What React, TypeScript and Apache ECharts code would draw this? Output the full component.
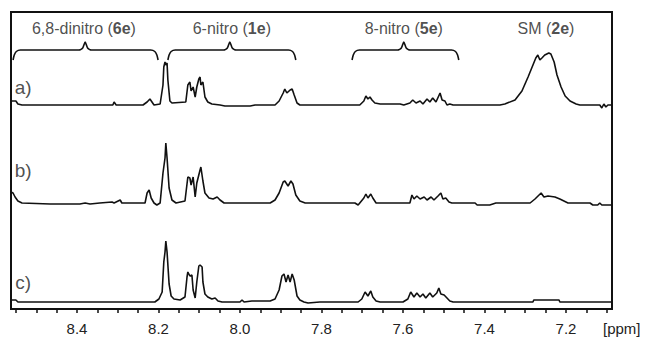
import React, { useEffect, useRef } from "react";
import * as echarts from "echarts";

// ppm, intensity (arbitrary units above each trace's baseline)
const spectrumA: [number, number][] = [
  [8.562, 4], [8.55, 4], [8.545, 1], [8.535, 0], [8.491, 0], [8.393, 0], [8.312, 0], [8.309, 3], [8.304, 0],
  [8.238, 0], [8.228, 3], [8.221, 6], [8.216, 3], [8.211, 0], [8.196, 1],
  [8.189, 20], [8.187, 38], [8.184, 43], [8.182, 40], [8.179, 42], [8.177, 25], [8.172, 4], [8.167, 2],
  [8.133, 3], [8.128, 20], [8.123, 23], [8.12, 14], [8.115, 18], [8.11, 8], [8.106, 18], [8.101, 26],
  [8.098, 28], [8.096, 20], [8.091, 23], [8.086, 8], [8.079, 3], [8.069, 1], [8.049, 0], [8.037, -1],
  [7.975, -1], [7.963, 0], [7.914, 0], [7.904, 4], [7.894, 12], [7.89, 16], [7.885, 12], [7.877, 15],
  [7.872, 16], [7.867, 10], [7.86, 2], [7.853, 0], [7.706, 0], [7.696, 4], [7.691, 9], [7.686, 6],
  [7.681, 8], [7.676, 5], [7.669, 2], [7.656, 1], [7.607, 1], [7.598, 0], [7.583, 2], [7.576, 5],
  [7.568, 2], [7.558, 4], [7.551, 1], [7.541, 6], [7.534, 3], [7.527, 7], [7.519, 3], [7.509, 12],
  [7.504, 5], [7.497, 4], [7.492, 0], [7.485, 1], [7.477, 0], [7.362, 0], [7.35, 1], [7.325, 5],
  [7.308, 14], [7.293, 28], [7.281, 40], [7.274, 47], [7.269, 50], [7.264, 45], [7.259, 47], [7.252, 50],
  [7.242, 52], [7.237, 51], [7.229, 43], [7.222, 30], [7.212, 18], [7.202, 9], [7.19, 4], [7.175, 1],
  [7.166, 0], [7.117, 0], [7.112, -3], [7.107, 1], [7.102, -2], [7.097, 0], [7.087, 0],
];

const spectrumB: [number, number][] = [
  [8.562, 11], [8.557, 10], [8.552, 6], [8.545, 2], [8.535, 0], [8.466, -1], [8.393, -1], [8.38, 0],
  [8.368, -1], [8.344, 0], [8.314, 1], [8.309, 0], [8.294, 3], [8.29, 0], [8.233, 0], [8.228, 10],
  [8.223, 13], [8.218, 5], [8.211, 0], [8.204, -2], [8.196, 0], [8.189, 30], [8.184, 45], [8.182, 60],
  [8.179, 45], [8.174, 15], [8.167, 3], [8.157, 0], [8.135, 2], [8.128, 26], [8.123, 25], [8.12, 18],
  [8.115, 26], [8.11, 6], [8.106, 20], [8.098, 33], [8.096, 36], [8.091, 22], [8.086, 10], [8.076, 5],
  [8.066, 4], [8.056, 6], [8.049, 3], [8.039, 0], [7.926, 0], [7.914, 3], [7.904, 10], [7.894, 21],
  [7.89, 22], [7.882, 17], [7.875, 22], [7.87, 19], [7.863, 8], [7.853, 2], [7.84, 0], [7.718, 0],
  [7.71, -2], [7.706, 0], [7.696, 5], [7.691, 9], [7.686, 5], [7.679, 9], [7.674, 5], [7.666, 0],
  [7.583, 0], [7.578, 8], [7.573, 4], [7.566, 7], [7.558, 4], [7.548, 6], [7.541, 3], [7.531, 6],
  [7.524, 3], [7.514, 7], [7.507, 10], [7.502, 4], [7.495, 5], [7.487, 1], [7.48, 0], [7.423, 0],
  [7.418, -2], [7.387, -2], [7.372, 0], [7.288, 0], [7.276, 4], [7.261, 10], [7.254, 6], [7.244, 7],
  [7.227, 6], [7.215, 4], [7.2, 1], [7.195, 0], [7.141, 0], [7.134, -2], [7.122, -2], [7.117, 0],
  [7.112, -2], [7.102, -2], [7.087, -2],
];

const spectrumC: [number, number][] = [
  [8.562, 2], [8.55, 2], [8.545, 0], [8.209, 0], [8.199, 3], [8.191, 10], [8.187, 40], [8.184, 50],
  [8.182, 61], [8.179, 50], [8.174, 18], [8.169, 6], [8.162, 3], [8.147, 2], [8.135, 5], [8.13, 25],
  [8.128, 30], [8.123, 26], [8.118, 27], [8.115, 12], [8.11, 4], [8.106, 20], [8.101, 36], [8.098, 37],
  [8.093, 35], [8.091, 20], [8.086, 8], [8.079, 5], [8.069, 3], [8.061, 4], [8.054, 1], [8.044, 0],
  [8.0, 0], [7.995, 2], [7.99, 0], [7.971, 1], [7.926, 1], [7.914, 3], [7.904, 12], [7.897, 26],
  [7.892, 28], [7.887, 20], [7.882, 27], [7.877, 20], [7.872, 28], [7.867, 22], [7.86, 6], [7.853, 2],
  [7.843, 0], [7.833, -1], [7.804, 0], [7.71, 0], [7.701, 3], [7.693, 10], [7.686, 6], [7.679, 11],
  [7.674, 5], [7.666, 1], [7.656, 0], [7.6, 0], [7.588, 3], [7.581, 10], [7.573, 5], [7.566, 9],
  [7.558, 5], [7.551, 8], [7.544, 4], [7.534, 9], [7.527, 5], [7.517, 9], [7.512, 14], [7.507, 8],
  [7.499, 7], [7.492, 4], [7.485, 1], [7.477, 0], [7.281, 0], [7.279, 2], [7.217, 2], [7.215, 0],
  [7.087, 0],
];

const traceNames = ["a)", "b)", "c)"];
const traceOffsets = [204, 106, 7];
const traceLabelPos: [number, number][] = [[8.532, 222], [8.532, 139], [8.532, 27]];

const groupNames = ["6,8-dinitro", "6-nitro", "8-nitro", "SM"];
const groupCodes = ["6e", "1e", "5e", "2e"];
const groupCenters = [8.383, 8.02, 7.598, 7.249];
const groupLabelY = 281;
// bracket start / centre / end (ppm)
const bracketRanges: [number, number, number][] = [
  [8.557, 8.38, 8.201],
  [8.177, 8.025, 7.863],
  [7.725, 7.598, 7.463],
];
const bracketLevel = 259;

const tickLabels = [8.4, 8.2, 8.0, 7.8, 7.6, 7.4, 7.2];
const minorTicks = [
  8.55, 8.5, 8.45, 8.4, 8.35, 8.3, 8.25, 8.2, 8.15, 8.1, 8.05, 8.0, 7.95, 7.9, 7.85, 7.8, 7.75, 7.7,
  7.65, 7.6, 7.55, 7.5, 7.45, 7.4, 7.35, 7.3, 7.25, 7.2, 7.15, 7.1,
];

const FONT = "Liberation Sans";

function bracketPoints(s: number, c: number, e: number, L: number): [number, number][] {
  return [
    [s, L - 10], [s - 0.003, L - 5], [s - 0.008, L - 1.5], [s - 0.018, L],
    [c + 0.015, L], [c + 0.006, L + 2], [c, L + 8], [c - 0.006, L + 2], [c - 0.015, L],
    [e + 0.018, L], [e + 0.008, L - 1.5], [e + 0.003, L - 5], [e, L - 10],
  ];
}

export default function App() {
  const ref = useRef<HTMLDivElement>(null);
  useEffect(() => {
    if (!ref.current) return;
    const chart = echarts.init(ref.current, null, { renderer: "svg" });
    const spectra = [spectrumA, spectrumB, spectrumC];
    const series: any[] = [];
    spectra.forEach((sp, i) => {
      series.push({
        type: "line",
        name: traceNames[i],
        data: sp.map(([x, y]) => [x, y + traceOffsets[i]]),
        showSymbol: false,
        symbol: "none",
        lineStyle: { color: "#111", width: 1.6 },
        silent: true,
      });
    });
    bracketRanges.forEach(([s, c, e], i) => {
      series.push({
        type: "line",
        name: "bracket" + i,
        data: bracketPoints(s, c, e, bracketLevel),
        showSymbol: false,
        symbol: "none",
        smooth: 0.2,
        lineStyle: { color: "#111", width: 1.6 },
        silent: true,
      });
    });
    series.push({
      type: "scatter",
      name: "groups",
      symbolSize: 0,
      silent: true,
      data: groupCenters.map((c, i) => ({
        value: [c, groupLabelY],
        label: {
          show: true,
          position: "inside",
          formatter: `{n|${groupNames[i]} (}{b|${groupCodes[i]}}{n|)}`,
          rich: {
            n: { fontSize: 16, fontFamily: FONT, color: "#222" },
            b: { fontSize: 16, fontFamily: FONT, color: "#222", fontWeight: "bold" },
          },
        },
      })),
    });
    series.push({
      type: "scatter",
      name: "traces",
      symbolSize: 0,
      silent: true,
      data: traceLabelPos.map((p, i) => ({
        value: p,
        label: {
          show: true,
          position: "inside",
          formatter: traceNames[i],
          fontSize: 19,
          fontFamily: FONT,
          color: "#222",
        },
      })),
    });

    chart.setOption({
      animation: false,
      textStyle: { fontFamily: FONT },
      grid: {
        left: 11,
        top: 12,
        width: 601,
        height: 297,
        show: true,
        borderColor: "#111",
        borderWidth: 2,
        backgroundColor: "transparent",
      },
      xAxis: {
        type: "value",
        inverse: true,
        min: 7.087,
        max: 8.562,
        axisLine: { show: false },
        splitLine: { show: false },
        axisTick: {
          show: true,
          inside: false,
          length: 4,
          customValues: minorTicks,
          lineStyle: { color: "#111", width: 1.5 },
        },
        axisLabel: {
          customValues: tickLabels,
          formatter: (v: number) => v.toFixed(1),
          fontSize: 15,
          fontFamily: FONT,
          color: "#222",
          margin: 12,
        },
      },
      yAxis: {
        type: "value",
        min: 0,
        max: 297,
        show: false,
      },
      graphic: [
        {
          type: "text",
          left: 603,
          top: 321,
          style: { text: "[ppm]", fontSize: 15, fontFamily: FONT, fill: "#222" },
        },
      ],
      series,
    });
    return () => chart.dispose();
  }, []);
  return (
    <div
      ref={ref}
      style={{ position: "fixed", left: 0, top: 0, width: 649, height: 340, background: "#fff" }}
    />
  );
}
